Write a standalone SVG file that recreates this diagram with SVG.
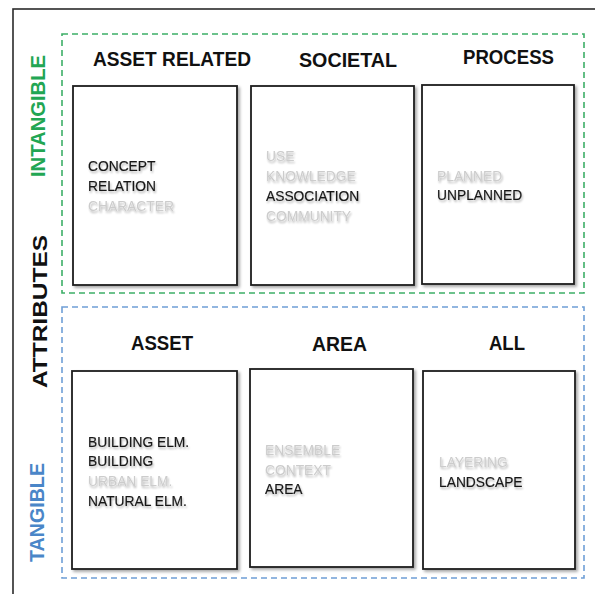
<svg xmlns="http://www.w3.org/2000/svg" width="595" height="594" viewBox="0 0 595 594">
  <defs>
    <style>
      .frame { fill: none; stroke: #2b2b2b; stroke-width: 1.6; }
      .zone-green { fill: none; stroke: #3dae67; stroke-width: 1.6; stroke-dasharray: 6 4; }
      .zone-blue { fill: none; stroke: #6f9fd6; stroke-width: 1.6; stroke-dasharray: 6 4; }
      .card { fill: #ffffff; stroke: #1c1c1c; stroke-width: 1.8; filter: url(#cardShadow); }
      .head { font-family: "Liberation Sans", Arial, sans-serif; font-weight: bold; font-size: 19.5px; fill: #111111; }
      .side { font-family: "Liberation Sans", Arial, sans-serif; font-weight: bold; font-size: 21px; text-anchor: middle; }
      .item { font-family: "Liberation Sans", Arial, sans-serif; font-size: 13.8px; fill: #161616; stroke: #161616; stroke-width: 0.15; filter: url(#textShadow); }
      .faded { font-family: "Liberation Sans", Arial, sans-serif; font-size: 13.8px; fill: #cccccc; filter: url(#fadedBlur); }
    </style>
    <filter id="cardShadow" x="-10%" y="-10%" width="125%" height="125%">
      <feGaussianBlur in="SourceAlpha" stdDeviation="1.6"/>
      <feOffset dx="2" dy="2" result="blur"/>
      <feComponentTransfer><feFuncA type="linear" slope="0.35"/></feComponentTransfer>
      <feMerge><feMergeNode/><feMergeNode in="SourceGraphic"/></feMerge>
    </filter>
    <filter id="textShadow" x="-10%" y="-30%" width="125%" height="170%">
      <feGaussianBlur in="SourceAlpha" stdDeviation="1"/>
      <feOffset dx="1" dy="1.5"/>
      <feComponentTransfer><feFuncA type="linear" slope="0.3"/></feComponentTransfer>
      <feMerge><feMergeNode/><feMergeNode in="SourceGraphic"/></feMerge>
    </filter>
    <filter id="fadedBlur" x="-10%" y="-30%" width="125%" height="170%">
      <feGaussianBlur in="SourceAlpha" stdDeviation="1.3"/>
      <feOffset dx="1" dy="1.5"/>
      <feComponentTransfer><feFuncA type="linear" slope="0.3"/></feComponentTransfer>
      <feMerge>
        <feMergeNode/>
        <feMergeNode in="SourceGraphic"/>
      </feMerge>
    </filter>
  </defs>

  <rect width="595" height="594" fill="#ffffff"/>

  <!-- outer frame, running past the right and bottom edges -->
  <rect class="frame" x="13" y="9" width="620" height="620"/>

  <!-- side labels -->
  <g id="labels-side">
    <text class="side" transform="translate(45,116) rotate(-90)" fill="#22a653" textLength="122" lengthAdjust="spacingAndGlyphs">INTANGIBLE</text>
    <text class="side" transform="translate(47,311.5) rotate(-90)" fill="#111111" font-size="27" textLength="153" lengthAdjust="spacingAndGlyphs">ATTRIBUTES</text>
    <text class="side" transform="translate(44,512.5) rotate(-90)" fill="#4a86c8" textLength="99" lengthAdjust="spacingAndGlyphs">TANGIBLE</text>
  </g>

  <!-- dashed zones -->
  <rect id="zone-intangible" class="zone-green" x="62" y="34" width="522" height="259"/>
  <rect id="zone-tangible" class="zone-blue" x="62" y="307" width="522" height="271"/>

  <!-- intangible row -->
  <g id="asset-related">
    <text class="head" x="93" y="66" textLength="158" lengthAdjust="spacingAndGlyphs">ASSET RELATED</text>
    <rect class="card" x="73" y="86" width="164" height="199"/>
    <text class="item" x="88" y="171">CONCEPT</text>
    <text class="item" x="88" y="191">RELATION</text>
    <text class="faded" x="88" y="211">CHARACTER</text>
  </g>

  <g id="societal">
    <text class="head" x="299" y="67" textLength="98" lengthAdjust="spacingAndGlyphs">SOCIETAL</text>
    <rect class="card" x="251" y="86" width="163" height="199"/>
    <text class="faded" x="266" y="161">USE</text>
    <text class="faded" x="266" y="181">KNOWLEDGE</text>
    <text class="item" x="266" y="201">ASSOCIATION</text>
    <text class="faded" x="266" y="221">COMMUNITY</text>
  </g>

  <g id="process">
    <text class="head" x="463" y="64" textLength="91" lengthAdjust="spacingAndGlyphs">PROCESS</text>
    <rect class="card" x="422" y="85" width="152" height="199"/>
    <text class="faded" x="437" y="181">PLANNED</text>
    <text class="item" x="437" y="200">UNPLANNED</text>
  </g>

  <!-- tangible row -->
  <g id="asset">
    <text class="head" x="131" y="350" textLength="62" lengthAdjust="spacingAndGlyphs">ASSET</text>
    <rect class="card" x="72" y="371" width="165" height="198"/>
    <text class="item" x="88" y="447">BUILDING ELM.</text>
    <text class="item" x="88" y="466">BUILDING</text>
    <text class="faded" x="88" y="486">URBAN ELM.</text>
    <text class="item" x="88" y="506">NATURAL ELM.</text>
  </g>

  <g id="area">
    <text class="head" x="312" y="351" textLength="55" lengthAdjust="spacingAndGlyphs">AREA</text>
    <rect class="card" x="250" y="369" width="163" height="198"/>
    <text class="faded" x="265" y="455">ENSEMBLE</text>
    <text class="faded" x="265" y="475">CONTEXT</text>
    <text class="item" x="265" y="494">AREA</text>
  </g>

  <g id="all">
    <text class="head" x="489" y="350" textLength="36" lengthAdjust="spacingAndGlyphs">ALL</text>
    <rect class="card" x="423" y="371" width="152" height="198"/>
    <text class="faded" x="439" y="467">LAYERING</text>
    <text class="item" x="439" y="487">LANDSCAPE</text>
  </g>
</svg>
